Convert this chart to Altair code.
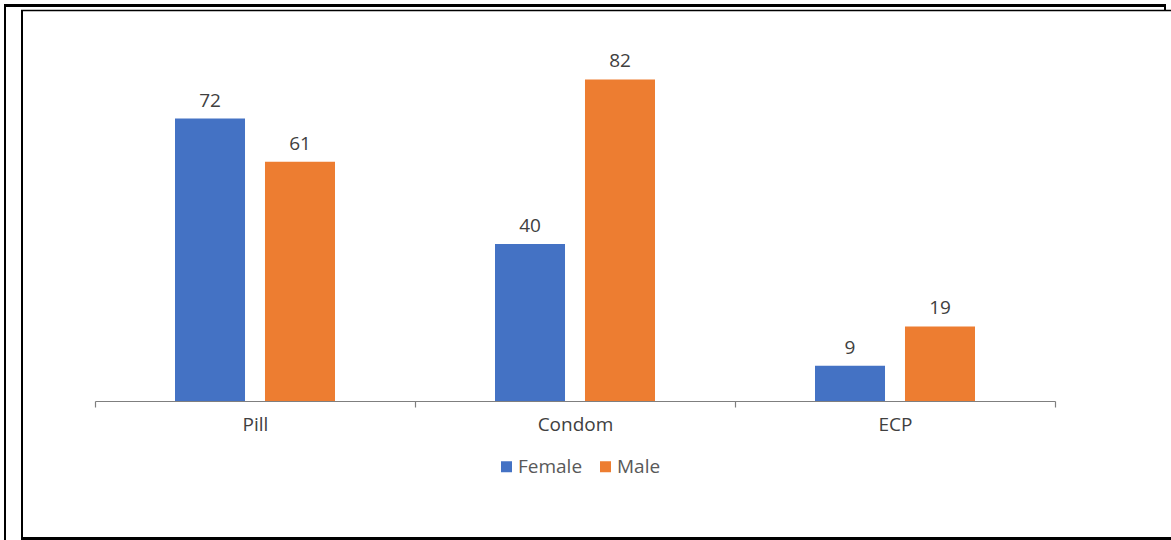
import altair as alt
import pandas as pd

methods = ["Pill", "Condom", "ECP"]
sexes = ["Female", "Male"]
female_vals = [72, 40, 9]
male_vals = [61, 82, 19]
colors = ["#4472C4", "#ED7D31"]

rows = []
for m, f, ml in zip(methods, female_vals, male_vals):
    rows.append({"method": m, "sex": "Female", "value": f})
    rows.append({"method": m, "sex": "Male", "value": ml})
df = pd.DataFrame(rows)

FONT = "Century Gothic, Open Sans"
OX, OY = 95, 48  # plot origin in page

base = alt.Chart(df).encode(
    x=alt.X("method:N", sort=methods, title=None,
            scale=alt.Scale(paddingInner=0, paddingOuter=0),
            axis=alt.Axis(labelAngle=0, tickBand="extent", domainColor="#7f7f7f",
                          tickColor="#7f7f7f", tickSize=6, labelPadding=8,
                          labelFont=FONT, labelFontSize=19, labelColor="#404040",
                          domainWidth=1.2, tickWidth=1.2)),
    xOffset=alt.XOffset("sex:N", sort=sexes,
                        scale=alt.Scale(paddingInner=0.222, paddingOuter=0.889)),
    y=alt.Y("value:Q", title=None, scale=alt.Scale(domain=[0, 90], nice=False),
            axis=None),
)

bars = base.mark_bar().encode(
    color=alt.Color("sex:N", sort=sexes, title=None,
                    scale=alt.Scale(domain=sexes, range=colors),
                    legend=alt.Legend(orient="none", direction="horizontal",
                                      legendX=402, legendY=409, padding=0,
                                      symbolType="square", symbolSize=121,
                                      symbolStrokeWidth=0, labelFont=FONT,
                                      labelFontSize=19, labelColor="#595959",
                                      labelOffset=2, columnPadding=13))
)

labels = base.mark_text(baseline="alphabetic", dy=-12, font=FONT, fontSize=19,
                        color="#404040").encode(text=alt.Text("value:Q"))

one = alt.Data(values=[{"a": 0}])

def rule(x1, y1, x2, y2, w):
    return alt.Chart(one).mark_rule(color="black", strokeWidth=w).encode(
        x=alt.value(x1 - OX), x2=alt.value(x2 - OX),
        y=alt.value(y1 - OY), y2=alt.value(y2 - OY))

frame = [
    rule(5, 5, 5, 540, 2),
    rule(4, 5.5, 1166, 5.5, 3),
    rule(1165, 5, 1165, 11, 2),
    rule(22, 10, 22, 539, 2),
    rule(21, 10.5, 1171, 10.5, 1.5),
    rule(21, 538.5, 1171, 538.5, 3),
]

chart = alt.layer(bars, labels, *frame).properties(
    width=960, height=353,
    background="white",
    autosize=alt.AutoSizeParams(type="none"),
    padding={"left": OX, "top": OY, "right": 1171 - OX - 960, "bottom": 540 - OY - 353},
).configure_view(stroke=None, strokeWidth=0)

chart.save("out.html", embed_options={"renderer": "svg", "actions": False})
